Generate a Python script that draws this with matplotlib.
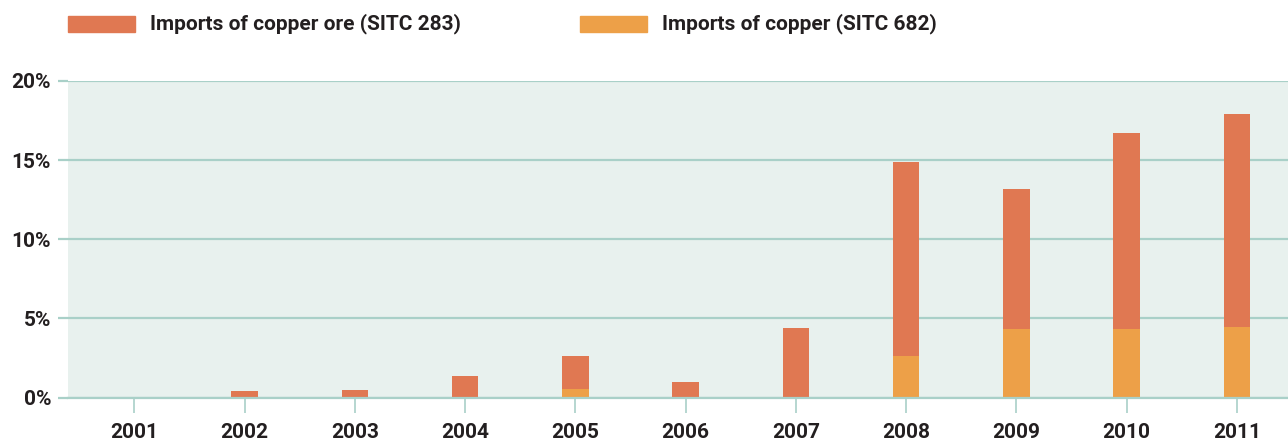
import numpy as np
import matplotlib.pyplot as plt
from matplotlib.patches import Rectangle

plt.rcParams['font.family'] = ['Roboto', 'DejaVu Sans']
plt.rcParams['font.weight'] = 'bold'

years = [2001, 2002, 2003, 2004, 2005, 2006, 2007, 2008, 2009, 2010, 2011]
# share of total imports, %
copper_682 = [0, 0, 0, 0, 0.56, 0, 0, 2.62, 4.33, 4.33, 4.43]
total = [0, 0.43, 0.49, 1.36, 2.62, 1.0, 4.39, 14.9, 13.2, 16.7, 17.9]
ore_283 = [t - c for t, c in zip(total, copper_682)]

yticks = [0, 5, 10, 15, 20]
ytick_labels = ['0%', '5%', '10%', '15%', '20%']

ore_color = '#E07852'
copper_color = '#EDA048'
grid_color = '#A9D0C8'
bg_color = '#E8F1EE'
text_color = '#231F20'

fig = plt.figure(figsize=(12.88, 4.41), dpi=100)
ax = fig.add_axes([68 / 1288, 43.5 / 441, 1220 / 1288, 316.5 / 441])
ax.set_facecolor(bg_color)

x = np.array(years)
ax.bar(x, copper_682, width=0.24, color=copper_color, zorder=3)
ax.bar(x, ore_283, width=0.24, bottom=copper_682, color=ore_color, zorder=3)

ax.set_xlim(2000.397, 2011.463)
ax.set_ylim(0, 20)
ax.set_yticks(yticks)
ax.set_yticklabels(ytick_labels)
ax.set_xticks(years)
ax.set_xticklabels([str(y) for y in years])

ax.grid(axis='y', color=grid_color, linewidth=1.6, zorder=1)
for s in ax.spines.values():
    s.set_visible(False)
ax.tick_params(axis='y', length=7.2, width=1.6, color=grid_color, pad=5,
               labelsize=15, labelcolor=text_color)
ax.tick_params(axis='x', length=11, width=1.2, color=grid_color, pad=7,
               labelsize=15, labelcolor=text_color)
ax.axhline(0, color=grid_color, linewidth=1.6, zorder=4, clip_on=False)

# legend drawn in figure coordinates
for px, label, col in [(68, 'Imports of copper ore (SITC 283)', ore_color),
                       (580, 'Imports of copper (SITC 682)', copper_color)]:
    fig.patches.append(Rectangle((px / 1288, (441 - 32) / 441), 67 / 1288, 16 / 441,
                                 transform=fig.transFigure, color=col))
    fig.text((px + 82) / 1288, (441 - 24) / 441, label, fontsize=15,
             fontweight='bold', color=text_color, va='center', ha='left')

fig.savefig('out.png', dpi=100)
